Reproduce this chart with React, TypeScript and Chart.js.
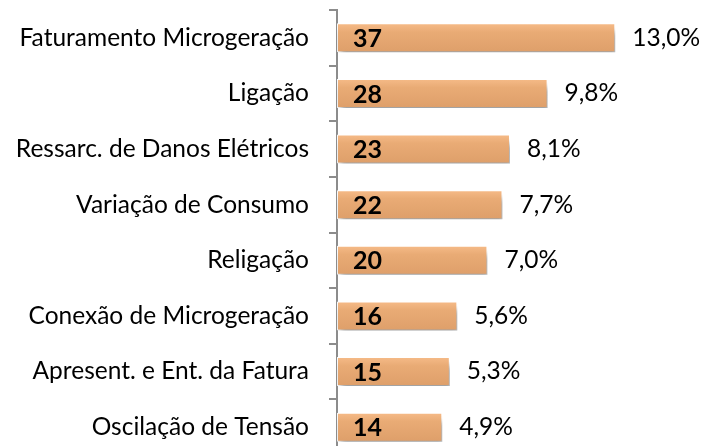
import React, { useEffect, useRef } from "react";
import { Chart, registerables } from "chart.js";

Chart.register(...registerables);

const categories = [
  "Faturamento Microgeração",
  "Ligação",
  "Ressarc. de Danos Elétricos",
  "Variação de Consumo",
  "Religação",
  "Conexão de Microgeração",
  "Apresent. e Ent. da Fatura",
  "Oscilação de Tensão",
];
const counts = [37, 28, 23, 22, 20, 16, 15, 14];
const percents = ["13,0%", "9,8%", "8,1%", "7,7%", "7,0%", "5,6%", "5,3%", "4,9%"];

const FONT = "Lato, 'Open Sans', sans-serif";

export default function App() {
  const ref = useRef<HTMLCanvasElement | null>(null);

  useEffect(() => {
    document.body.style.margin = "0";
    const canvas = ref.current;
    if (!canvas) return;

    const shadowPlugin = {
      id: "barShadow",
      beforeDatasetsDraw(chart: any) {
        const ctx = chart.ctx;
        ctx.save();
        ctx.shadowColor = "rgba(0,0,0,0.36)";
        ctx.shadowBlur = 6;
        ctx.shadowOffsetX = 3;
        ctx.shadowOffsetY = 8;
      },
      afterDatasetsDraw(chart: any) {
        const ctx = chart.ctx;
        ctx.restore();
        const meta = chart.getDatasetMeta(0);
        ctx.save();
        ctx.fillStyle = "#000";
        ctx.textBaseline = "middle";
        meta.data.forEach((bar: any, i: number) => {
          ctx.textAlign = "left";
          ctx.font = `bold 25px ${FONT}`;
          ctx.fillText(String(counts[i]), bar.base + 16, bar.y + 1);
          ctx.font = `24.5px ${FONT}`;
          ctx.fillText(percents[i], bar.x + 17, bar.y);
        });
        ctx.restore();
      },
    };

    const chart = new Chart(canvas, {
      type: "bar",
      data: {
        labels: categories,
        datasets: [
          {
            data: counts,
            backgroundColor: (c: any) => {
              const ch = c.chart;
              const y = ch.scales?.y;
              if (!y || c.dataIndex === undefined) return "#DFA06B";
              const cy = y.getPixelForValue(c.dataIndex);
              if (!Number.isFinite(cy)) return "#DFA06B";
              const half = 14.5;
              const g = ch.ctx.createLinearGradient(0, cy - half, 0, cy + half);
              g.addColorStop(0, "#F6BB88");
              g.addColorStop(0.3, "#E9AB75");
              g.addColorStop(1, "#DE9F6A");
              return g;
            },
            borderColor: "rgba(255,255,255,0.95)",
            borderWidth: 1,
            borderSkipped: false,
            categoryPercentage: 1,
            barPercentage: 0.52,
          },
        ],
      },
      options: {
        indexAxis: "y",
        animation: false,
        responsive: false,
        devicePixelRatio: 1,
        layout: { padding: { left: 0, right: 7, top: 10, bottom: 15 } },
        plugins: {
          legend: { display: false },
          tooltip: { enabled: false },
        },
        scales: {
          x: { display: false, min: 0, max: 48 },
          y: {
            afterFit: (s: any) => {
              s.width = 337;
              s.paddingTop = 0;
              s.paddingBottom = 0;
            },
            grid: {
              drawOnChartArea: false,
              drawTicks: true,
              tickLength: 8,
              color: "#8c8c8c",
              lineWidth: 2,
              offset: true,
            },
            border: { display: true, color: "#8c8c8c", width: 2 },
            ticks: {
              color: "#000",
              padding: 20,
              font: { family: FONT, size: 24.5 },
            },
          },
        },
      },
      plugins: [shadowPlugin],
    });

    return () => chart.destroy();
  }, []);

  return (
    <div style={{ position: "absolute", left: 0, top: 0, width: 705, height: 446, overflow: "hidden" }}>
      <canvas ref={ref} width={705} height={470} style={{ display: "block" }} />
    </div>
  );
}
